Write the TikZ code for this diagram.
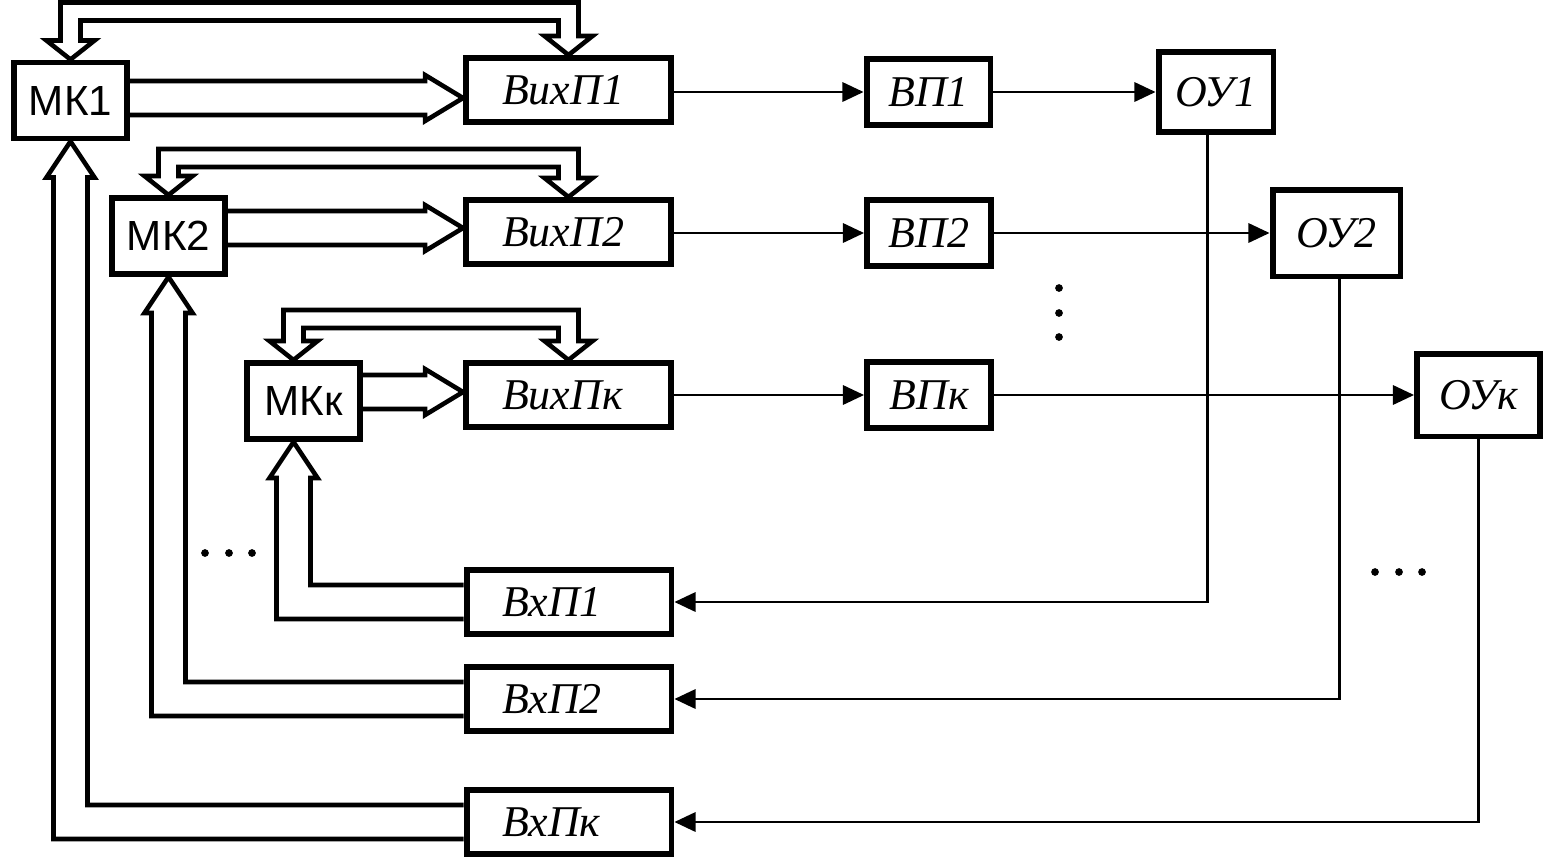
\documentclass[tikz,border=0pt]{standalone}
\usepackage{fontspec}
\setmainfont{Liberation Serif}
\newfontfamily\mkfont{Liberation Sans}
\usetikzlibrary{arrows.meta,calc}

% wide (bus) arrow from #1 into the west side of #2, tip moved by #3
\newcommand{\busright}[3]{%
  \coordinate (tip) at ($(#2.west)+(0,#3)$);
  \draw[bus] ($(#1.east |- tip)+(0,-17)$) -- ($(tip)+(-38,-17)$) -- ($(tip)+(-38,-23)$) -- (tip)
    -- ($(tip)+(-38,23)$) -- ($(tip)+(-38,17)$) -- ($(#1.east |- tip)+(0,17)$);}
% wide arrow from the west side of #1 up to the point #2
\newcommand{\busup}[2]{%
  \draw[bus] ($(#1.west)+(0,-17)$) -- ($(#2 |- #1.west)+(17,-17)$) -- ($(#2)+(17,36)$) -- ($(#2)+(24,36)$) -- (#2)
    -- ($(#2)+(-24,36)$) -- ($(#2)+(-17,36)$) -- ($(#2 |- #1.west)+(-17,17)$) -- ($(#1.west)+(0,17)$);}
% two-headed wide arrow over the top between the points #1 and #2, #3 = rise above #1
\newcommand{\bustop}[3]{%
  \draw[bus] (#1) -- ($(#1)+(-24,-19)$) -- ($(#1)+(-10,-19)$) -- ($(#1)+(-10,-#3)$)
    -- ($(#2 |- #1)+(10,-#3)$) -- ($(#2)+(10,-19)$) -- ($(#2)+(24,-19)$) -- (#2)
    -- ($(#2)+(-24,-19)$) -- ($(#2)+(-10,-19)$) -- ($(#2 |- #1)+(-10,-#3+18)$)
    -- ($(#1)+(10,-#3+18)$) -- ($(#1)+(10,-19)$) -- ($(#1)+(24,-19)$) -- cycle;}

\begin{document}
\begin{tikzpicture}[x=0.02cm, y=-0.02cm,
    block/.style={draw, line width=3.4pt, inner sep=0pt, font=\fontsize{25}{25}\selectfont\itshape},
    mk/.style={block, minimum width=2.26cm, minimum height=1.52cm, font=\mkfont\fontsize{24}{24}\selectfont},
    wide/.style={block, minimum width=4.1cm, minimum height=1.28cm, text width=2.66cm, align=left},
    vp/.style={block, minimum width=2.48cm, minimum height=1.32cm},
    bus/.style={line width=2.6pt},
    sig/.style={line width=1.3pt, -{Triangle[length=12pt, width=11pt]}}]
    \useasboundingbox (0,0) rectangle (1545,856);

    \node [mk] (mk1) at (70.5,100.5) {МК1};
    \node [mk] (mk2) at (168.5,236) {МК2};
    \node [mk] (mkk) at (303.5,401) {МКк};
    \coordinate (mkk-n) at ([xshift=-0.2cm]mkk.north);
    \coordinate (mkk-s) at ([xshift=-0.2cm]mkk.south);

    \node [wide] (out1) at (568.5,90) {ВихП1};
    \node [wide] (out2) at (568.5,232) {ВихП2};
    \node [wide] (outk) at (568.5,395) {ВихПк};

    \node [vp] (vp1) at (928.5,92) {ВП1};
    \node [vp] (vp2) at (929,233) {ВП2};
    \node [vp] (vpk) at (929,395) {ВПк};

    \node [block, minimum width=2.3cm, minimum height=1.6cm] (ou1) at (1216,92) {ОУ1};
    \node [block, minimum width=2.56cm, minimum height=1.74cm] (ou2) at (1336.5,233) {ОУ2};
    \node [block, minimum width=2.46cm, minimum height=1.66cm] (ouk) at (1478.5,395) {ОУк};

    \node [wide] (in1) at (569,602) {ВхП1};
    \node [wide] (in2) at (569,699) {ВхП2};
    \node [wide] (ink) at (569,822) {ВхПк};

    % buses between the controllers and the ports
    \bustop{mk1.north}{out1.north}{57}
    \bustop{mk2.north}{out2.north}{46}
    \bustop{mkk-n}{outk.north}{50}
    \busright{mk1}{out1}{8}
    \busright{mk2}{out2}{-4}
    \busright{mkk}{outk}{-3}
    \busup{in1}{mkk-s}
    \busup{in2}{mk2.south}
    \busup{ink}{mk1.south}

    % signal chain and feedback
    \draw [sig] (out1.east |- vp1.west) -- (vp1.west);
    \draw [sig] (out2.east |- vp2.west) -- (vp2.west);
    \draw [sig] (outk.east) -- (vpk.west);
    \draw [sig] (vp1.east) -- (ou1.west);
    \draw [sig] (vp2.east) -- (ou2.west);
    \draw [sig] (vpk.east) -- (ouk.west);
    \draw [sig] ([xshift=-0.17cm]ou1.south) |- (in1.east);
    \draw [sig] ([xshift=0.06cm]ou2.south) |- (in2.east);
    \draw [sig] (ouk.south) |- (ink.east);

    \fill (205,553) circle (2.2pt) (229,553) circle (2.2pt) (252,553) circle (2.2pt);
    \fill (1059,288) circle (2.2pt) (1059,313) circle (2.2pt) (1059,337) circle (2.2pt);
    \fill (1375,572) circle (2.2pt) (1399,572) circle (2.2pt) (1422,572) circle (2.2pt);
\end{tikzpicture}
\end{document}
